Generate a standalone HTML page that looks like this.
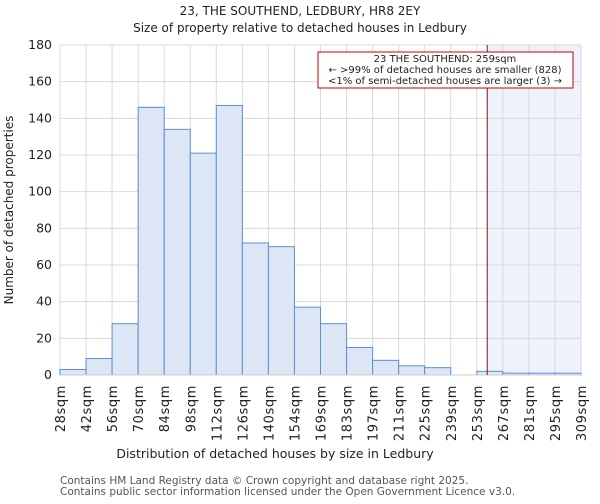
<!DOCTYPE html>
<html><head><meta charset="utf-8"><style>
body{margin:0;background:#fff;font-family:"DejaVu Sans","Liberation Sans",sans-serif}
</style></head><body>
<svg id="chart" width="600" height="500" xmlns="http://www.w3.org/2000/svg" font-family="DejaVu Sans, Liberation Sans, sans-serif">
<text x="300" y="15" text-anchor="middle" font-size="12" fill="#222">23, THE SOUTHEND, LEDBURY, HR8 2EY</text>
<text x="300" y="32" text-anchor="middle" font-size="12" fill="#222">Size of property relative to detached houses in Ledbury</text>
<g id="grid"></g><g id="bars"></g><g id="axes"></g>
<text x="275" y="458" text-anchor="middle" font-size="12.5" fill="#222">Distribution of detached houses by size in Ledbury</text>
<text transform="translate(13,210) rotate(-90)" text-anchor="middle" font-size="12" fill="#222">Number of detached properties</text>
<text x="60" y="484" font-size="10.5" fill="#555">Contains HM Land Registry data © Crown copyright and database right 2025.</text>
<text x="60" y="495" font-size="10.5" fill="#555">Contains public sector information licensed under the Open Government Licence v3.0.</text>
</svg>
<script>
const binLabels=["28sqm","42sqm","56sqm","70sqm","84sqm","98sqm","112sqm","126sqm","140sqm","154sqm","169sqm","183sqm","197sqm","211sqm","225sqm","239sqm","253sqm","267sqm","281sqm","295sqm","309sqm"];
const counts=[3,9,28,146,134,121,147,72,70,37,28,15,8,5,4,0,2,1,1,1];
const yTicks=[0,20,40,60,80,100,120,140,160,180];
const markerBin=16.4;
const ns="http://www.w3.org/2000/svg";
const X0=60,X1=581,Y0=375,Y1=45,YMAX=180;
const bw=(X1-X0)/counts.length;
const xs=i=>X0+i*bw, ys=v=>Y0-(v/YMAX)*(Y0-Y1);
function mk(t,a,p){const e=document.createElementNS(ns,t);for(const k in a)e.setAttribute(k,a[k]);p.appendChild(e);return e;}
const grid=document.getElementById('grid'),bars=document.getElementById('bars'),axes=document.getElementById('axes');
const mx=xs(markerBin);
const shade=mk('rect',{x:mx,y:Y1,width:X1-mx,height:Y0-Y1,fill:'#eef2fb'},grid);


yTicks.forEach(v=>{
 mk('line',{x1:X0,x2:X1,y1:ys(v),y2:ys(v),stroke:'#d8d8d8'},grid);
 const t=mk('text',{x:X0-8,y:ys(v)+4,'text-anchor':'end','font-size':12.5,fill:'#222'},axes);t.textContent=v;
 
 
});
binLabels.forEach((l,i)=>{
 mk('line',{x1:xs(i),x2:xs(i),y1:Y1,y2:Y0,stroke:'#d8d8d8'},grid);
 const t=mk('text',{transform:`translate(${xs(i)+5},${Y0+10}) rotate(-90)`,'text-anchor':'end','font-size':13,'letter-spacing':'0.6',fill:'#222'},axes);t.textContent=l;
 
 
});
counts.forEach((c,i)=>{
 if(c<=0)return;
 const r=mk('rect',{x:xs(i),y:ys(c),width:bw,height:Y0-ys(c),fill:'#dce6f4',stroke:'#5b8fd6','stroke-width':1},bars);
 
 
});
mk('line',{x1:X0,x2:X1,y1:Y0,y2:Y0,stroke:'#ccc'},axes);
const ml=mk('line',{x1:mx,x2:mx,y1:Y1,y2:Y0,stroke:'#8a1010','stroke-width':1},axes);


const g=mk('g',{},axes);


mk('rect',{x:318,y:52,width:255,height:36,fill:'#fff',stroke:'#c00000'},g);
[["23 THE SOUTHEND: 259sqm",62],["← >99% of detached houses are smaller (828)",73],["<1% of semi-detached houses are larger (3) →",84]].forEach(([s,y])=>{
 const t=mk('text',{x:445,y:y,'text-anchor':'middle','font-size':10,fill:'#222'},g);t.textContent=s;
 
 
});
</script>
</body></html>
